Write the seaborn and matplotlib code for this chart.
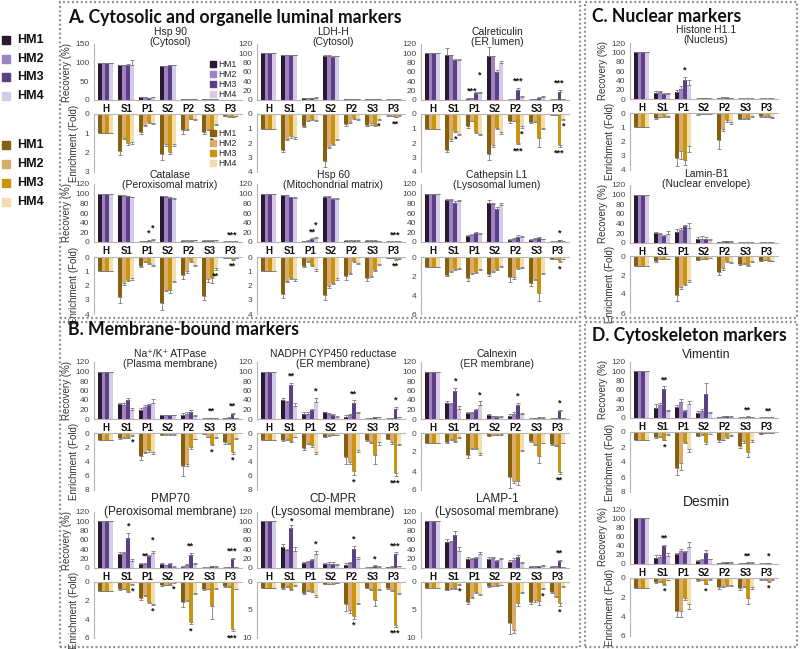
import pandas as pd
import matplotlib
matplotlib.use('Agg')
import matplotlib.pyplot as plt
from matplotlib.patches import Rectangle, Patch
from matplotlib.container import BarContainer
import seaborn as sns

fractions = ['H', 'S1', 'P1', 'S2', 'P2', 'S3', 'P3']
hm_names = ['HM1', 'HM2', 'HM3', 'HM4']
rec_colors = ['#2b1a2e', '#9d82c4', '#5c3f85', '#d5cae8']
enr_colors = ['#85600f', '#d9ab6d', '#c99410', '#f3dcae']

# recovery (%) and enrichment (fold): one row per fraction, columns HM1..HM4
hsp90_rec = [[100, 100, 100, 100], [93, 93, 95, 95], [8, 7, 5, 7], [90, 91, 93, 93],
             [3, 3, 3, 3], [2, 2, 2, 2], [1, 1, 1, 1]]
hsp90_enr = [[1, 1, 1, 1], [1.9, 1.25, 1.5, 1.45], [0.95, 0.55, 0.4, 0.45], [2.05, 1.55, 1.95, 1.55],
             [0.85, 0.8, 0.25, 0.25], [0.95, 0.75, 0.85, 0.5], [0.1, 0.12, 0.15, 0.1]]
ldh_rec = [[100, 100, 100, 100], [96, 96, 96, 96], [4, 4, 4, 5], [95, 95, 93, 94],
           [2, 2, 2, 2], [2, 2, 2, 2], [1, 1, 1, 1]]
ldh_enr = [[1, 1, 1, 1], [2.45, 1.7, 1.55, 1.6], [0.8, 0.4, 0.35, 0.4], [3.25, 2.25, 2.05, 1.7],
           [0.7, 0.55, 0.3, 0.35], [0.75, 0.65, 0.75, 0.35], [0.1, 0.12, 0.2, 0.1]]
calret_rec = [[100, 100, 100, 100], [97, 97, 85, 86], [3, 4, 16, 14], [95, 95, 61, 79],
              [1, 1, 22, 7], [1, 2, 5, 6], [1, 1, 18, 2]]
calret_enr = [[1, 1, 1, 1], [2.45, 1.75, 1.15, 1.35], [0.8, 0.45, 1.25, 1.35], [2.75, 2.15, 0.95, 1.25],
              [0.5, 0.45, 2.0, 0.85], [0.55, 0.45, 1.65, 0.95], [0.05, 0.05, 2.15, 0.35]]
catalase_rec = [[100, 100, 100, 100], [97, 96, 95, 93], [1, 2, 3, 5], [95, 94, 92, 90],
                [3, 3, 3, 4], [3, 3, 3, 4], [1, 1, 1, 1]]
catalase_enr = [[1, 1, 1, 1], [2.8, 1.85, 1.6, 1.5], [0.6, 0.3, 0.45, 0.55], [3.25, 2.3, 2.35, 1.65],
                [1.25, 1.0, 0.3, 0.55], [2.75, 1.55, 1.45, 0.8], [0.05, 0.05, 0.15, 0.05]]
hsp60_rec = [[100, 100, 100, 100], [97, 97, 93, 92], [2, 3, 7, 9], [94, 94, 90, 90],
             [3, 3, 3, 3], [3, 3, 3, 2], [1, 1, 1, 1]]
hsp60_enr = [[1, 1, 1, 1], [2.6, 1.65, 1.45, 1.55], [0.6, 0.3, 0.55, 0.85], [2.65, 2.05, 1.8, 1.5],
             [1.3, 1.1, 0.3, 0.4], [1.5, 1.3, 0.9, 0.5], [0.05, 0.05, 0.15, 0.1]]
catl1_rec = [[100, 100, 100, 100], [87, 86, 81, 84], [12, 15, 18, 16], [81, 79, 69, 76],
             [5, 7, 11, 10], [5, 6, 8, 6], [1, 1, 4, 1]]
catl1_enr = [[1, 1, 1, 1], [1.85, 1.45, 1.3, 1.2], [2.2, 1.65, 1.6, 1.3], [1.75, 1.5, 1.25, 0.95],
             [2.1, 2.1, 1.2, 1.05], [2.7, 2.35, 3.75, 1.7], [0.2, 0.2, 0.45, 0.2]]
histone_rec = [[100, 100, 100, 100], [13, 14, 10, 10], [15, 22, 40, 31], [1, 2, 2, 1],
               [2, 4, 3, 2], [1, 1, 1, 1], [1, 1, 1, 1]]
histone_enr = [[1, 1, 1, 1], [0.35, 0.25, 0.2, 0.2], [3.15, 2.7, 3.3, 2.35], [0.1, 0.05, 0.05, 0.05],
               [1.9, 1.15, 0.5, 0.65], [0.4, 0.35, 0.35, 0.2], [0.2, 0.2, 0.2, 0.3]]
lamin_rec = [[100, 100, 100, 100], [20, 18, 15, 19], [23, 26, 35, 32], [9, 8, 9, 6],
             [2, 3, 4, 3], [1, 1, 1, 1], [1, 1, 1, 1]]
lamin_enr = [[1, 1, 1, 1], [0.5, 0.3, 0.3, 0.3], [4.1, 3.3, 2.9, 2.5], [0.4, 0.3, 0.3, 0.2],
             [1.65, 1.3, 0.5, 0.6], [0.8, 0.7, 0.9, 0.5], [0.5, 0.4, 0.45, 0.5]]
nak_rec = [[100, 100, 100, 100], [31, 30, 41, 20], [20, 26, 30, 34], [8, 8, 8, 8],
           [9, 11, 15, 7], [1, 2, 2, 2], [2, 3, 11, 2]]
nak_enr = [[1, 1, 1, 1], [0.7, 0.6, 0.55, 0.3], [3.2, 2.6, 2.4, 2.7], [0.3, 0.2, 0.2, 0.2],
           [4.6, 4.4, 2.0, 0.8], [0.15, 0.5, 1.5, 0.6], [1.3, 1.4, 2.6, 0.7]]
nadph_rec = [[100, 100, 100, 100], [40, 36, 72, 27], [11, 11, 20, 35], [14, 11, 9, 5],
             [5, 8, 34, 12], [1, 2, 4, 4], [1, 2, 22, 4]]
nadph_enr = [[1, 1, 1, 1], [1.0, 0.85, 1.15, 0.5], [2.05, 1.4, 1.7, 2.7], [0.55, 0.35, 0.3, 0.3],
             [3.4, 4.0, 5.3, 2.4], [1.0, 1.3, 3.1, 1.2], [0.8, 1.3, 5.6, 1.5]]
calnexin_rec = [[100, 100, 100, 100], [33, 31, 60, 22], [12, 12, 20, 30], [8, 6, 5, 5],
                [7, 10, 30, 10], [1, 2, 3, 3], [1, 2, 16, 2]]
calnexin_enr = [[1, 1, 1, 1], [0.9, 0.65, 0.85, 0.45], [2.35, 1.55, 1.6, 2.15], [0.3, 0.2, 0.2, 0.15],
                [4.6, 5.1, 5.0, 1.8], [0.85, 1.2, 2.4, 1.0], [1.15, 1.3, 4.1, 1.0]]
pmp70_rec = [[100, 100, 100, 100], [31, 32, 65, 15], [9, 8, 26, 32], [8, 6, 8, 3],
             [3, 6, 28, 8], [1, 1, 4, 3], [1, 2, 20, 2]]
pmp70_enr = [[1, 1, 1, 1], [0.75, 0.7, 1.0, 0.25], [1.7, 1.35, 2.15, 2.35], [0.35, 0.3, 0.3, 0.05],
             [2.1, 1.95, 4.3, 1.2], [0.75, 0.7, 2.6, 0.6], [0.45, 0.45, 5.0, 0.7]]
cdmpr_rec = [[100, 100, 100, 100], [44, 39, 85, 36], [10, 12, 17, 31], [9, 9, 8, 7],
             [7, 10, 40, 19], [1, 2, 5, 3], [2, 3, 31, 4]]
cdmpr_enr = [[1, 1, 1, 1], [1.1, 0.8, 1.2, 0.55], [1.9, 1.4, 1.6, 2.3], [0.35, 0.3, 0.25, 0.15],
             [3.9, 5.0, 6.1, 3.7], [1.0, 1.3, 3.3, 1.3], [1.1, 1.4, 7.6, 1.9]]
lamp1_rec = [[100, 100, 100, 100], [56, 55, 71, 37], [20, 20, 21, 29], [20, 22, 15, 20],
             [13, 18, 23, 10], [3, 4, 4, 5], [3, 4, 15, 2]]
lamp1_enr = [[1, 1, 1, 1], [1.4, 1.15, 1.1, 0.4], [3.5, 2.6, 1.8, 2.2], [0.8, 0.7, 0.6, 0.5],
             [7.3, 8.6, 3.7, 1.8], [3.6, 3.3, 3.4, 1.1], [1.7, 2.5, 3.8, 0.8]]
vimentin_rec = [[100, 100, 100, 100], [21, 27, 63, 15], [24, 34, 16, 30], [10, 14, 51, 10],
                [2, 3, 4, 3], [1, 2, 3, 2], [1, 1, 1, 1]]
vimentin_enr = [[1, 1, 1, 1], [0.7, 0.5, 1.0, 0.3], [4.8, 4.1, 1.3, 2.3], [0.5, 0.3, 1.3, 0.2],
                [1.1, 1.0, 0.7, 0.45], [1.8, 1.2, 2.6, 1.1], [0.2, 0.15, 0.15, 0.1]]
desmin_rec = [[100, 100, 100, 100], [14, 16, 40, 18], [21, 28, 27, 37], [6, 9, 23, 10],
              [2, 3, 4, 3], [1, 2, 3, 3], [1, 1, 2, 0]]
desmin_enr = [[1, 1, 1, 1], [0.45, 0.35, 0.65, 0.2], [3.4, 3.4, 2.1, 2.7], [0.25, 0.2, 0.6, 0.15],
              [0.95, 0.85, 0.7, 0.7], [1.0, 0.8, 2.05, 0.95], [0.15, 0.15, 0.35, 0.15]]

# error bars (SD), same layout as the values
hsp90_rec_err = [[0, 0, 0, 0], [1, 1, 2, 13], [1, 1, 1, 1], [1, 1, 1, 1],
                 [0.5, 0.5, 0.5, 0.5], [0.5, 0.5, 0.5, 0.5], [0.3, 0.3, 0.3, 0.3]]
hsp90_enr_err = [[0, 0, 0, 0], [0.2, 0.05, 0.1, 0.1], [0.1, 0.05, 0.05, 0.05], [0.35, 0.1, 0.1, 0.1],
                 [0.2, 0.05, 0.03, 0.05], [0.1, 0.1, 0.2, 0.05], [0.02, 0.02, 0.02, 0.02]]
ldh_rec_err = [[0, 0, 0, 0], [1, 1, 1, 1], [0.5, 0.5, 0.5, 0.5], [1, 1, 1, 1],
               [0.3, 0.3, 0.3, 0.3], [0.3, 0.3, 0.3, 0.3], [0.2, 0.2, 0.2, 0.2]]
ldh_enr_err = [[0, 0, 0, 0], [0.2, 0.1, 0.1, 0.1], [0.1, 0.05, 0.05, 0.05], [0.4, 0.1, 0.1, 0.1],
               [0.1, 0.05, 0.05, 0.05], [0.1, 0.1, 0.1, 0.05], [0.02, 0.02, 0.03, 0.02]]
calret_rec_err = [[0, 0, 0, 0], [14, 0, 2, 2], [1, 1, 2, 4], [18, 0, 3, 5],
                  [0.5, 0.5, 4, 2], [0.5, 1, 1, 2], [0.3, 0.3, 4, 1]]
calret_enr_err = [[0, 0, 0, 0], [0.2, 0.1, 0.1, 0.1], [0.15, 0.05, 0.05, 0.1], [0.4, 0.1, 0.1, 0.1],
                  [0.1, 0.05, 0.1, 0.1], [0.1, 0.1, 0.6, 0.1], [0.02, 0.02, 0.1, 0.05]]
catalase_rec_err = [[0, 0, 0, 0], [1, 1, 1, 1], [0.5, 0.5, 1, 2], [1, 1, 1, 1],
                    [0.5, 0.5, 0.5, 0.5], [0.5, 0.5, 0.5, 0.5], [0.2, 0.2, 0.2, 0.2]]
catalase_enr_err = [[0, 0, 0, 0], [0.4, 0.1, 0.1, 0.1], [0.1, 0.05, 0.05, 0.05], [0.5, 0.1, 0.2, 0.1],
                    [0.3, 0.1, 0.05, 0.1], [0.3, 0.2, 0.4, 0.1], [0.02, 0.02, 0.03, 0.02]]
hsp60_rec_err = [[0, 0, 0, 0], [1, 1, 1, 1], [0.5, 0.5, 1, 1], [1, 1, 1, 1],
                 [0.5, 0.5, 0.5, 0.5], [0.5, 0.5, 0.5, 0.5], [0.2, 0.2, 0.2, 0.2]]
hsp60_enr_err = [[0, 0, 0, 0], [0.3, 0.1, 0.1, 0.1], [0.1, 0.05, 0.1, 0.1], [0.4, 0.1, 0.1, 0.1],
                 [0.3, 0.1, 0.05, 0.1], [0.2, 0.1, 0.1, 0.05], [0.02, 0.02, 0.03, 0.02]]
catl1_rec_err = [[0, 0, 0, 0], [3, 2, 3, 3], [3, 2, 3, 2], [6, 2, 3, 4],
                 [2, 2, 4, 2], [2, 2, 2, 1], [0.5, 0.5, 1, 0.5]]
catl1_enr_err = [[0, 0, 0, 0], [0.2, 0.1, 0.1, 0.1], [0.3, 0.1, 0.1, 0.1], [0.2, 0.1, 0.1, 0.1],
                 [0.5, 0.2, 0.1, 0.1], [0.4, 0.1, 0.9, 0.1], [0.05, 0.05, 0.1, 0.05]]
histone_rec_err = [[0, 0, 0, 0], [4, 4, 2, 3], [5, 6, 7, 10], [1, 1, 1, 1],
                   [1, 1, 1, 1], [0.5, 0.5, 0.5, 0.5], [0.5, 0.5, 0.5, 0.5]]
histone_enr_err = [[0, 0, 0, 0], [0.05, 0.05, 0.05, 0.05], [0.6, 0.55, 0.35, 0.4], [0.02, 0.02, 0.02, 0.02],
                   [0.6, 0.1, 0.1, 0.1], [0.05, 0.05, 0.05, 0.05], [0.05, 0.05, 0.05, 0.05]]
lamin_rec_err = [[0, 0, 0, 0], [3, 3, 2, 6], [5, 4, 3, 10], [3, 6, 3, 3],
                 [1, 1, 1, 1], [0.5, 0.5, 0.5, 0.5], [0.5, 0.5, 0.5, 0.5]]
lamin_enr_err = [[0, 0, 0, 0], [0.1, 0.05, 0.05, 0.05], [0.6, 0.2, 0.2, 0.2], [0.05, 0.05, 0.05, 0.05],
                 [0.4, 0.2, 0.1, 0.1], [0.1, 0.1, 0.2, 0.1], [0.05, 0.05, 0.1, 0.05]]
nak_rec_err = [[0, 0, 0, 0], [3, 3, 4, 3], [4, 3, 2, 8], [1, 1, 1, 1],
               [4, 3, 3, 2], [0.5, 0.5, 1, 0.5], [0.5, 0.5, 2, 0.5]]
nak_enr_err = [[0, 0, 0, 0], [0.1, 0.1, 0.1, 0.1], [0.6, 0.2, 0.2, 0.2], [0.05, 0.05, 0.05, 0.05],
               [1.5, 0.3, 0.3, 0.1], [0.05, 0.1, 0.2, 0.1], [0.2, 0.1, 0.3, 0.1]]
nadph_rec_err = [[0, 0, 0, 0], [4, 2, 4, 7], [3, 3, 1, 9], [1, 2, 1, 1],
                 [3, 3, 5, 3], [0.5, 0.5, 1, 1], [0.5, 0.5, 4, 1]]
nadph_enr_err = [[0, 0, 0, 0], [0.1, 0.1, 0.1, 0.1], [0.3, 0.1, 0.2, 0.3], [0.05, 0.05, 0.05, 0.05],
                 [1.0, 0.3, 0.6, 0.2], [0.1, 0.1, 1.3, 0.5], [0.1, 0.2, 0.5, 0.2]]
calnexin_rec_err = [[0, 0, 0, 0], [5, 2, 6, 5], [2, 2, 1, 7], [2, 1, 1, 1],
                    [3, 4, 4, 2], [0.5, 0.5, 1, 1], [0.5, 0.5, 3, 0.5]]
calnexin_enr_err = [[0, 0, 0, 0], [0.1, 0.1, 0.1, 0.1], [0.3, 0.1, 0.1, 0.2], [0.05, 0.05, 0.05, 0.05],
                    [1.2, 0.2, 0.5, 0.1], [0.1, 0.1, 0.8, 0.1], [0.1, 0.1, 0.2, 0.1]]
pmp70_rec_err = [[0, 0, 0, 0], [3, 3, 10, 5], [2, 3, 2, 5], [2, 1, 2, 1],
                 [1, 2, 5, 2], [0.5, 0.5, 1, 1], [0.3, 0.5, 2, 0.5]]
pmp70_enr_err = [[0, 0, 0, 0], [0.1, 0.05, 0.1, 0.05], [0.2, 0.1, 0.1, 0.1], [0.05, 0.05, 0.05, 0.05],
                 [0.6, 0.05, 0.2, 0.1], [0.1, 0.1, 1.4, 0.1], [0.1, 0.1, 0.3, 0.1]]
cdmpr_rec_err = [[0, 0, 0, 0], [8, 2, 8, 10], [3, 2, 2, 6], [2, 4, 4, 2],
                 [4, 3, 7, 5], [0.5, 0.5, 1, 1], [0.5, 0.5, 3, 1]]
cdmpr_enr_err = [[0, 0, 0, 0], [0.2, 0.1, 0.2, 0.1], [0.3, 0.2, 0.2, 0.3], [0.05, 0.05, 0.05, 0.05],
                 [1.2, 0.5, 0.5, 0.3], [0.1, 0.2, 1.0, 0.2], [0.2, 0.2, 0.4, 0.3]]
lamp1_rec_err = [[0, 0, 0, 0], [6, 3, 8, 8], [3, 2, 2, 5], [4, 2, 2, 2],
                 [5, 3, 4, 3], [0.5, 0.5, 1, 1], [0.5, 0.5, 2, 0.5]]
lamp1_enr_err = [[0, 0, 0, 0], [0.1, 0.1, 0.1, 0.1], [0.5, 0.2, 0.1, 0.2], [0.05, 0.05, 0.05, 0.05],
                 [2.0, 0.5, 0.5, 0.2], [0.4, 0.2, 0.7, 0.2], [0.2, 0.2, 0.4, 0.1]]
vimentin_rec_err = [[0, 0, 0, 0], [8, 6, 5, 3], [4, 6, 2, 7], [4, 5, 25, 2],
                    [0.5, 0.5, 1, 0.5], [0.5, 0.5, 1, 0.5], [0.3, 0.3, 0.3, 0.3]]
vimentin_enr_err = [[0, 0, 0, 0], [0.1, 0.1, 0.1, 0.1], [0.9, 0.9, 0.2, 0.3], [0.05, 0.05, 0.3, 0.05],
                    [0.2, 0.1, 0.1, 0.1], [0.3, 0.2, 0.7, 0.2], [0.03, 0.03, 0.03, 0.03]]
desmin_rec_err = [[0, 0, 0, 0], [5, 4, 2, 5], [4, 4, 2, 10], [2, 2, 8, 2],
                  [1, 1, 1, 1], [0.5, 0.5, 1, 0.5], [0.3, 0.3, 0.5, 0.3]]
desmin_enr_err = [[0, 0, 0, 0], [0.05, 0.05, 0.05, 0.05], [0.6, 0.6, 0.2, 0.5], [0.05, 0.05, 0.05, 0.05],
                  [0.2, 0.1, 0.1, 0.1], [0.2, 0.1, 0.6, 0.2], [0.03, 0.03, 0.05, 0.03]]

# significance marks: (fraction, HM index, label, extra lift in points)
calret_rec_sig = [('P1', 1, '***', 0), ('P1', 3, '*', 7), ('P2', 2, '***', 0), ('P3', 2, '***', 0)]
calret_enr_sig = [('S1', 2, '*', 0), ('P2', 3, '*', 0), ('P2', 2, '***', 0), ('P3', 3, '*', 0), ('P3', 2, '***', 0)]
hsp90_enr_sig = [('S3', 2, '*', 0)]
ldh_enr_sig = [('S3', 3, '*', 0), ('P3', 2, '**', 0)]
catalase_rec_sig = [('P1', 2, '*', 0), ('P1', 3, '*', 3), ('P3', 2, '***', 0)]
catalase_enr_sig = [('S3', 3, '**', 0), ('P3', 2, '**', 0)]
hsp60_rec_sig = [('P1', 2, '**', 0), ('P1', 3, '*', 4), ('P3', 2, '***', 0)]
hsp60_enr_sig = [('P3', 2, '**', 0)]
catl1_rec_sig = [('P3', 2, '*', 0)]
catl1_enr_sig = [('P3', 2, '*', 0)]
histone_rec_sig = [('P1', 2, '*', 0)]
nak_rec_sig = [('S3', 2, '**', 0), ('P3', 2, '**', 0)]
nak_enr_sig = [('S1', 3, '*', 0), ('S3', 2, '*', 0), ('P3', 2, '*', 0)]
nadph_rec_sig = [('S1', 2, '**', 0), ('P1', 3, '*', 0), ('P2', 2, '**', 0), ('P3', 2, '*', 0)]
nadph_enr_sig = [('P2', 2, '*', 0), ('P3', 2, '***', 0)]
calnexin_rec_sig = [('S1', 2, '*', 0), ('P1', 3, '*', 0), ('P2', 2, '*', 0), ('P3', 2, '*', 0)]
calnexin_enr_sig = [('P3', 2, '**', 0)]
pmp70_rec_sig = [('S1', 2, '*', 0), ('P1', 1, '**', 0), ('P1', 3, '*', 3), ('P2', 2, '**', 0), ('P3', 2, '***', 0)]
pmp70_enr_sig = [('S1', 3, '*', 0), ('P1', 3, '*', 0), ('S2', 3, '*', 0), ('P2', 2, '*', 0), ('P3', 2, '***', 0)]
cdmpr_rec_sig = [('S1', 2, '*', -2.5), ('P1', 3, '*', 0), ('P2', 2, '*', 0), ('S3', 2, '*', 0), ('P3', 2, '***', 0)]
cdmpr_enr_sig = [('P2', 2, '*', 0), ('P3', 2, '***', 0)]
lamp1_rec_sig = [('P3', 2, '**', 0)]
lamp1_enr_sig = [('S1', 3, '*', 0), ('S3', 3, '*', 0), ('P3', 2, '*', 0)]
vimentin_rec_sig = [('S1', 2, '**', 0), ('S3', 2, '**', 0), ('P3', 2, '**', 0)]
vimentin_enr_sig = [('S1', 2, '*', 0)]
desmin_rec_sig = [('S1', 2, '**', 0), ('S3', 2, '**', 0), ('P3', 2, '*', 0)]
desmin_enr_sig = [('S1', 2, '*', 0), ('S2', 2, '*', 0), ('P3', 2, '*', 0)]

W, H = 800, 649
AX_W = 148
BAR_W = 0.76


def px_rect(x0, y0, x1, y1):
    return [x0 / W, 1 - y1 / H, (x1 - x0) / W, (y1 - y0) / H]


def to_long(vals):
    rows = [(f, hm, v) for f, row in zip(fractions, vals) for hm, v in zip(hm_names, row)]
    return pd.DataFrame(rows, columns=['frac', 'hm', 'val'])


def bar_centers(ax):
    # one BarContainer per HM level, patches ordered by fraction
    bars = [c for c in ax.containers if isinstance(c, BarContainer)]
    return [[p.get_x() + p.get_width() / 2 for p in cont] for cont in bars]


def style_axis(ax):
    for s in ax.spines.values():
        s.set_color('#b5b5b5')
        s.set_linewidth(0.8)
    ax.tick_params(axis='y', labelsize=6, colors='#444', length=2, width=0.6, pad=1.5)
    ax.set_xlim(-0.55, 6.55)
    ax.set_xlabel('')
    ax.set_ylabel('')


def add_errors(ax, vals, errs, centers):
    for hi in range(4):
        ys = [row[hi] for row in vals]
        es = [row[hi] for row in errs]
        ax.errorbar(centers[hi], ys, yerr=[[0] * len(es), es], fmt='none', ecolor='#7a7a7a',
                    elinewidth=0.6, capsize=1.3, capthick=0.6)


def add_sig(ax, vals, errs, sig, centers, below):
    for frac, hi, txt, lift in sig:
        fi = fractions.index(frac)
        x = centers[hi][fi]
        v = vals[fi][hi] + errs[fi][hi]
        if below:
            ax.annotate(txt, (x, v), xytext=(0, -1.5 - lift), textcoords='offset points',
                        ha='center', va='top', fontsize=6.5, fontweight='bold', color='#111')
        else:
            ax.annotate(txt, (x, v), xytext=(0, 1.5 + lift), textcoords='offset points',
                        ha='center', va='bottom', fontsize=6.5, fontweight='bold', color='#111')


def draw_marker(fig, left, row, title, rec, enr, rec_err, enr_err, enr_max, enr_ticks, rec_max=120,
                rec_ticks=range(0, 121, 20), rec_sig=(), enr_sig=(), ylabels=False, title_size=7.5):
    rt, rb, et, eb, ty = row
    ax_r = fig.add_axes(px_rect(left, rt, left + AX_W, rb))
    ax_e = fig.add_axes(px_rect(left, et, left + AX_W, eb))

    bar_kw = dict(x='frac', y='val', hue='hm', order=fractions, hue_order=hm_names,
                  width=BAR_W, gap=0, saturation=1, errorbar=None, legend=False,
                  linewidth=0, edgecolor='none')
    sns.barplot(data=to_long(rec), palette=rec_colors, ax=ax_r, **bar_kw)
    sns.barplot(data=to_long(enr), palette=enr_colors, ax=ax_e, **bar_kw)
    rec_x = bar_centers(ax_r)
    enr_x = bar_centers(ax_e)
    add_errors(ax_r, rec, rec_err, rec_x)
    add_errors(ax_e, enr, enr_err, enr_x)

    style_axis(ax_r)
    ax_r.set_ylim(0, rec_max)
    ax_r.set_yticks(list(rec_ticks))
    ax_r.spines[['top', 'right']].set_visible(False)
    ax_r.tick_params(axis='x', length=0, pad=3)
    for lab in ax_r.get_xticklabels():
        lab.set_fontweight('bold')
        lab.set_fontsize(7)
        lab.set_color('#111')

    style_axis(ax_e)
    ax_e.set_ylim(enr_max, 0)
    ax_e.set_yticks(enr_ticks)
    ax_e.set_xticks([])
    ax_e.spines[['bottom', 'right']].set_visible(False)

    add_sig(ax_r, rec, rec_err, rec_sig, rec_x, below=False)
    add_sig(ax_e, enr, enr_err, enr_sig, enr_x, below=True)

    if ylabels:
        ax_r.set_ylabel('Recovery (%)', fontsize=7, color='#333', labelpad=2)
        ax_e.set_ylabel('Enrichment (Fold)', fontsize=7, color='#333', labelpad=4)

    fig.text((left + AX_W / 2 + 2) / W, 1 - ty / H, title, ha='center', va='center',
             fontsize=title_size, color='#222', linespacing=1.05)
    return ax_r, ax_e


sns.set_theme(style='white')
plt.rcParams['font.family'] = ['Liberation Sans', 'DejaVu Sans']

fig = plt.figure(figsize=(8, 6.49), dpi=100)

# panel frames
for x0, y0, x1, y1 in [(60, 2, 580, 318), (585, 2, 797, 318), (60, 322, 580, 647), (585, 322, 797, 647)]:
    fig.add_artist(Rectangle((x0 / W, 1 - y1 / H), (x1 - x0) / W, (y1 - y0) / H,
                             transform=fig.transFigure, fill=False, ec='#8a8a8a',
                             lw=1.6, ls=(0, (0.8, 1.2))))

head = dict(fontsize=12.7, fontweight='bold', family='Lato', color='#111', va='center')
fig.text(68 / W, 1 - 17 / H, 'A. Cytosolic and organelle luminal markers', **head)
fig.text(592 / W, 1 - 17 / H, 'C. Nuclear markers', **head)
fig.text(68 / W, 1 - 329 / H, 'B. Membrane-bound markers', **head)
fig.text(592 / W, 1 - 336 / H, 'D. Cytoskeleton markers', **head)

c1, c2, c3, cn = 94, 257, 421, 630
rowA1 = (44, 100, 114, 172, 37)
rowA2 = (184, 242, 257, 314, 180)
rowC1 = (43, 99, 113, 170, 35)
rowC2 = (185, 243, 256, 313, 179)
rowB1 = (362, 419, 433, 490, 359)
rowB2 = (512, 568, 582, 638, 505.5)
rowD1 = (362, 418, 432, 492, 355)
rowD2 = (509, 564, 578, 636, 502)

ax_r, ax_e = draw_marker(fig, c1, rowA1, 'Hsp 90\n(Cytosol)', hsp90_rec, hsp90_enr, hsp90_rec_err,
                         hsp90_enr_err, 3, [0, 1, 2, 3], rec_max=150, rec_ticks=[0, 50, 100, 150],
                         enr_sig=hsp90_enr_sig, ylabels=True)
leg_kw = dict(frameon=False, fontsize=6.2, handlelength=0.7, handleheight=0.7,
              handletextpad=0.3, labelspacing=0.1, borderaxespad=0.2)
ax_r.legend(handles=[Patch(color=c, label=l) for c, l in zip(rec_colors, hm_names)],
            loc='upper right', bbox_to_anchor=(1.0, 0.8), **leg_kw)
ax_e.legend(handles=[Patch(color=c, label=l) for c, l in zip(enr_colors, hm_names)],
            loc='lower right', bbox_to_anchor=(1.0, -0.02), **leg_kw)

draw_marker(fig, c2, rowA1, 'LDH-H\n(Cytosol)', ldh_rec, ldh_enr, ldh_rec_err, ldh_enr_err,
            4, [0, 1, 2, 3, 4], enr_sig=ldh_enr_sig)
draw_marker(fig, c3, rowA1, 'Calreticulin\n(ER lumen)', calret_rec, calret_enr, calret_rec_err,
            calret_enr_err, 4, [0, 1, 2, 3, 4], rec_sig=calret_rec_sig, enr_sig=calret_enr_sig)
draw_marker(fig, c1, rowA2, 'Catalase\n(Peroxisomal matrix)', catalase_rec, catalase_enr, catalase_rec_err,
            catalase_enr_err, 4, [0, 1, 2, 3, 4], rec_sig=catalase_rec_sig, enr_sig=catalase_enr_sig,
            ylabels=True)
draw_marker(fig, c2, rowA2, 'Hsp 60\n(Mitochondrial matrix)', hsp60_rec, hsp60_enr, hsp60_rec_err,
            hsp60_enr_err, 4, [0, 1, 2, 3, 4], rec_sig=hsp60_rec_sig, enr_sig=hsp60_enr_sig)
draw_marker(fig, c3, rowA2, 'Cathepsin L1\n(Lysosomal lumen)', catl1_rec, catl1_enr, catl1_rec_err,
            catl1_enr_err, 6, [0, 2, 4, 6], rec_sig=catl1_rec_sig, enr_sig=catl1_enr_sig)

draw_marker(fig, cn, rowC1, 'Histone H1.1\n(Nucleus)', histone_rec, histone_enr, histone_rec_err,
            histone_enr_err, 4, [0, 1, 2, 3, 4], rec_sig=histone_rec_sig, ylabels=True)
draw_marker(fig, cn, rowC2, 'Lamin-B1\n(Nuclear envelope)', lamin_rec, lamin_enr, lamin_rec_err,
            lamin_enr_err, 6, [0, 2, 4, 6], ylabels=True)

draw_marker(fig, c1, rowB1, 'Na⁺/K⁺ ATPase\n(Plasma membrane)', nak_rec, nak_enr, nak_rec_err,
            nak_enr_err, 8, [0, 2, 4, 6, 8], rec_sig=nak_rec_sig, enr_sig=nak_enr_sig, ylabels=True)
draw_marker(fig, c2, rowB1, 'NADPH CYP450 reductase\n(ER membrane)', nadph_rec, nadph_enr, nadph_rec_err,
            nadph_enr_err, 8, [0, 2, 4, 6, 8], rec_sig=nadph_rec_sig, enr_sig=nadph_enr_sig)
draw_marker(fig, c3, rowB1, 'Calnexin\n(ER membrane)', calnexin_rec, calnexin_enr, calnexin_rec_err,
            calnexin_enr_err, 6, [0, 2, 4, 6], rec_sig=calnexin_rec_sig, enr_sig=calnexin_enr_sig)
draw_marker(fig, c1, rowB2, 'PMP70\n(Peroxisomal membrane)', pmp70_rec, pmp70_enr, pmp70_rec_err,
            pmp70_enr_err, 6, [0, 2, 4, 6], rec_sig=pmp70_rec_sig, enr_sig=pmp70_enr_sig,
            ylabels=True, title_size=8.5)
draw_marker(fig, c2, rowB2, 'CD-MPR\n(Lysosomal membrane)', cdmpr_rec, cdmpr_enr, cdmpr_rec_err,
            cdmpr_enr_err, 10, [0, 5, 10], rec_sig=cdmpr_rec_sig, enr_sig=cdmpr_enr_sig, title_size=8.5)
draw_marker(fig, c3, rowB2, 'LAMP-1\n(Lysosomal membrane)', lamp1_rec, lamp1_enr, lamp1_rec_err,
            lamp1_enr_err, 10, [0, 5, 10], rec_sig=lamp1_rec_sig, enr_sig=lamp1_enr_sig, title_size=8.5)

draw_marker(fig, cn, rowD1, 'Vimentin', vimentin_rec, vimentin_enr, vimentin_rec_err, vimentin_enr_err,
            8, [0, 2, 4, 6, 8], rec_sig=vimentin_rec_sig, enr_sig=vimentin_enr_sig, ylabels=True,
            title_size=9)
draw_marker(fig, cn, rowD2, 'Desmin', desmin_rec, desmin_enr, desmin_rec_err, desmin_enr_err,
            6, [0, 2, 4, 6], rec_sig=desmin_rec_sig, enr_sig=desmin_enr_sig, ylabels=True, title_size=10)

# left-hand legends
for colors, ys in [(rec_colors, [40, 59, 77, 96]), (enr_colors, [145, 164, 183, 202])]:
    for c, y, name in zip(colors, ys, hm_names):
        fig.add_artist(Rectangle((2 / W, 1 - (y + 4) / H), 8 / W, 8 / H,
                                 transform=fig.transFigure, color=c))
        fig.text(17 / W, 1 - y / H, name, fontsize=9, fontweight='bold', va='center', color='#111')

fig.savefig('out.png', dpi=100)
